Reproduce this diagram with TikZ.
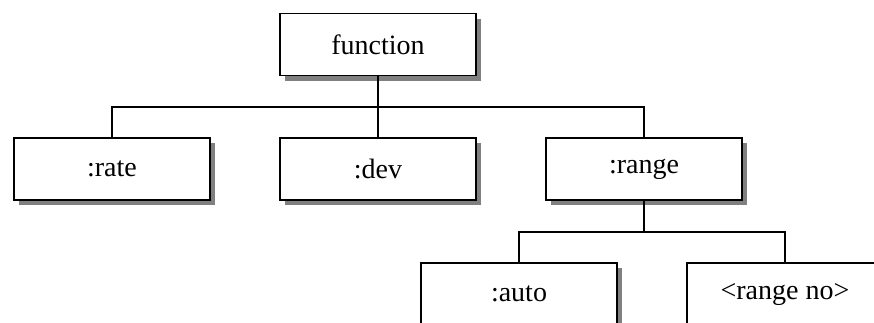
\documentclass[tikz,border=0pt]{standalone}
\usepackage{fontspec}
\setmainfont{Liberation Serif}
\usetikzlibrary{shadows}
\begin{document}
\begin{tikzpicture}[x=1pt,y=-1pt,
  box/.style={draw=black,fill=white,line width=1.8pt,minimum width=196pt,minimum height=62pt,
    inner sep=0pt,font=\fontsize{28}{33}\selectfont,
    drop shadow={shadow xshift=5pt,shadow yshift=-5pt,fill=black!50,opacity=1}},
  conn/.style={line width=1.8pt}]
\useasboundingbox (0,0) rectangle (874,322);
\clip (0,0) rectangle (874,322);
\node[box] (fn) at (378,44.5) {function};
\node[box] (rate) at (112,169) {:rate};
\node[box] (dev) at (378,169) {:dev};
\node[box] (range) at (644,169) {:range};
\node[box] (auto) at (519,294) {:auto};
\node[box] (rno) at (785,294) {<range no>};
\coordinate (j1) at (378,107);
\coordinate (j2) at (644,232);
\draw[conn] (fn.south) -- (dev.north);
\draw[conn] (rate.north) |- (j1) -| (range.north);
\draw[conn] (range.south) -- (j2);
\draw[conn] (auto.north) |- (j2) -| (rno.north);
\end{tikzpicture}
\end{document}
